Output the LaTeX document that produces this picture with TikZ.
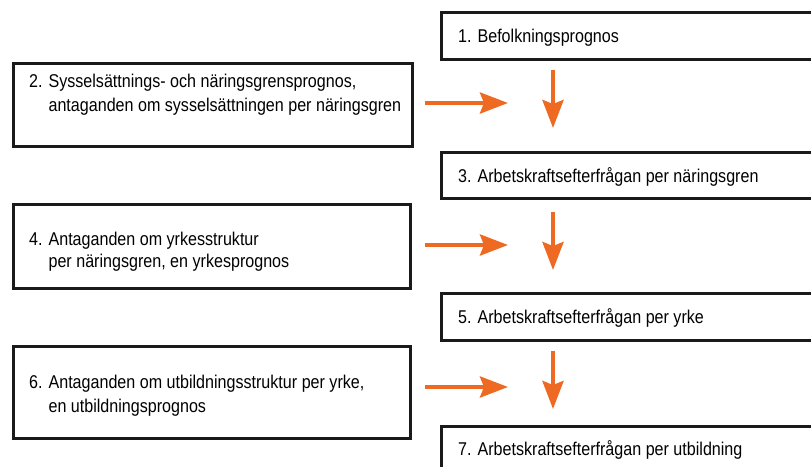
\documentclass[tikz,border=0pt]{standalone}
\usepackage{fontspec}
\setmainfont{Liberation Sans}[FakeStretch=0.87]
\usetikzlibrary{arrows.meta}
\definecolor{arrorange}{HTML}{EE6A22}
\definecolor{boxline}{HTML}{1A1A1A}
\tikzset{
  box/.style={draw=boxline, line width=2.5pt, fill=white, rectangle, inner sep=0pt, anchor=north west},
  txt/.style={inner sep=0pt, anchor=base west, font=\fontsize{18.5}{23}\selectfont, text=black},
  arr/.style={draw=arrorange, line width=4pt, -{Stealth[length=28pt, width=21pt, inset=4pt]}}
}
\newcommand{\twolines}[3]{\vtop{\baselineskip=#3pt\hbox{#1}\hbox{#2}}}
\begin{document}
\begin{tikzpicture}[x=1pt,y=-1pt]
\useasboundingbox (0,0) rectangle (811,466);
\fill[white] (0,0) rectangle (811,466);
% right column boxes
\node[box, minimum width=380pt, minimum height=47pt] (b1) at (440,11) {};
\node[box, minimum width=380pt, minimum height=46pt] (b3) at (440,151) {};
\node[box, minimum width=380pt, minimum height=47pt] (b5) at (440,292) {};
\node[box, minimum width=380pt, minimum height=60pt] (b7) at (440,425) {};
% left column boxes
\node[box, minimum width=399pt, minimum height=83pt] (b2) at (12,62) {};
\node[box, minimum width=397pt, minimum height=84pt] (b4) at (12,203) {};
\node[box, minimum width=397pt, minimum height=92pt] (b6) at (12,345) {};
% texts
\node[txt] (t1) at (458,42) {1. Befolkningsprognos};
\node[txt] (t3) at (458,182) {3. Arbetskraftsefterfrågan per näringsgren};
\node[txt] (t5) at (458,323) {5. Arbetskraftsefterfrågan per yrke};
\node[txt] (t7) at (458,455) {7. Arbetskraftsefterfrågan per utbildning};
\node[txt] (t2) at (29,87) {\twolines{2. Sysselsättnings- och näringsgrensprognos,}{\hphantom{2. }antaganden om sysselsättningen per näringsgren}{24.5}};
\node[txt] (t4) at (29,245) {\twolines{4. Antaganden om yrkesstruktur}{\hphantom{4. }per näringsgren, en yrkesprognos}{22.5}};
\node[txt] (t6) at (29,388) {\twolines{6. Antaganden om utbildningsstruktur per yrke,}{\hphantom{6. }en utbildningsprognos}{24.5}};
% arrow end points
\coordinate (h1s) at (425,103); \coordinate (h1e) at (508,103);
\coordinate (v1s) at (553,70);  \coordinate (v1e) at (553,128);
\coordinate (h2s) at (425,245); \coordinate (h2e) at (508,245);
\coordinate (v2s) at (553,212); \coordinate (v2e) at (553,270);
\coordinate (h3s) at (425,387); \coordinate (h3e) at (508,387);
\coordinate (v3s) at (553,351); \coordinate (v3e) at (553,409);
\draw[arr] (h1s) -- (h1e);
\draw[arr] (v1s) -- (v1e);
\draw[arr] (h2s) -- (h2e);
\draw[arr] (v2s) -- (v2e);
\draw[arr] (h3s) -- (h3e);
\draw[arr] (v3s) -- (v3e);
\end{tikzpicture}
\end{document}
